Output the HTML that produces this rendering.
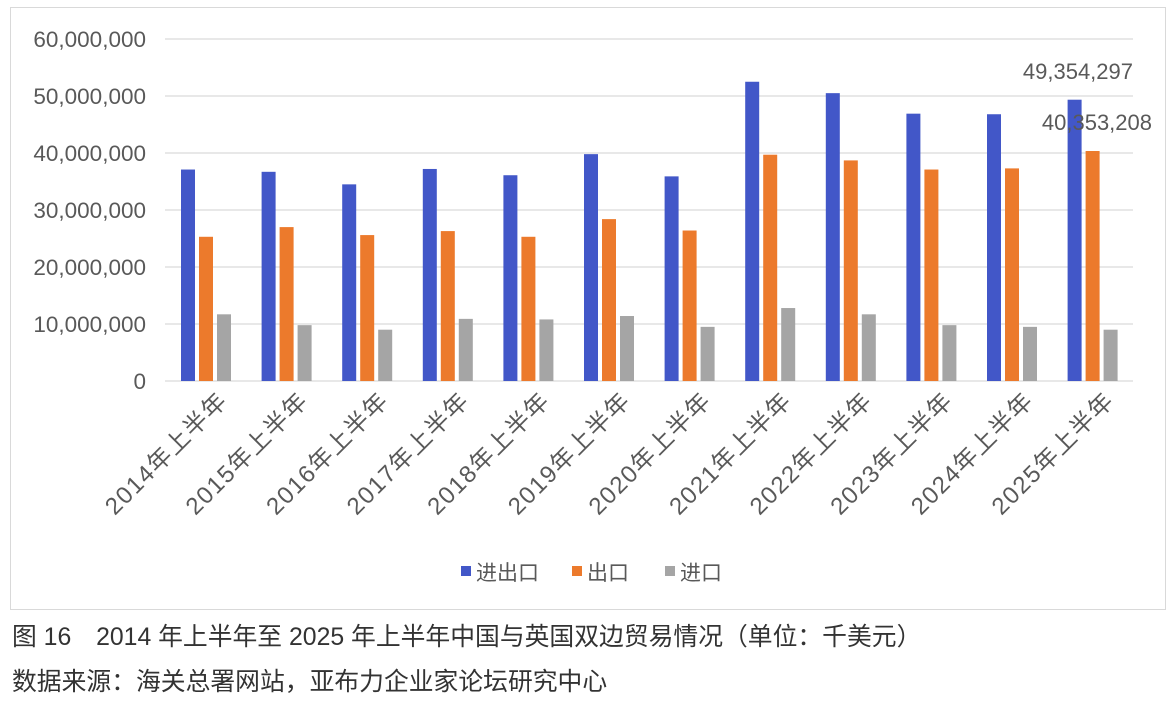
<!DOCTYPE html>
<html><head><meta charset="utf-8"><style>
body{margin:0;background:#fff;}
svg text{font-family:"Liberation Sans","Noto Sans CJK SC",sans-serif;}
</style></head><body>
<svg width="1176" height="707" xmlns="http://www.w3.org/2000/svg">
<rect x="10.5" y="7.5" width="1155" height="602" fill="#fff" stroke="#d9d9d9"/>
<g stroke="#d9d9d9" stroke-width="1.2">
<line x1="165" x2="1133" y1="39" y2="39"/><line x1="165" x2="1133" y1="96" y2="96"/>
<line x1="165" x2="1133" y1="153" y2="153"/><line x1="165" x2="1133" y1="210" y2="210"/>
<line x1="165" x2="1133" y1="267" y2="267"/><line x1="165" x2="1133" y1="324" y2="324"/>
<line x1="165" x2="1133" y1="381" y2="381"/>
</g>
<g fill="#595959" font-size="22.5" text-anchor="end">
<text x="146" y="47">60,000,000</text><text x="146" y="104">50,000,000</text>
<text x="146" y="161">40,000,000</text><text x="146" y="218">30,000,000</text>
<text x="146" y="275">20,000,000</text><text x="146" y="332">10,000,000</text>
<text x="146" y="389">0</text>
</g>
<g id="bars"></g>
<g id="labels" fill="#595959" font-size="24" letter-spacing="1.5" text-anchor="end"></g>
<text x="1133" y="79" fill="#595959" font-size="22" text-anchor="end">49,354,297</text>
<text x="1152" y="130" fill="#595959" font-size="22" text-anchor="end">40,353,208</text>
<g font-size="21" fill="#595959">
<rect x="461" y="566" width="10" height="10" fill="#4257c8"/><text x="476" y="580">进出口</text>
<rect x="572" y="566" width="10" height="10" fill="#ec7a2c"/><text x="587" y="580">出口</text>
<rect x="665" y="566" width="10" height="10" fill="#a5a5a5"/><text x="680" y="580">进口</text>
</g>
<g fill="#333" font-size="24.8">
<text x="12" y="645">图 16　2014 年上半年至 2025 年上半年中国与英国双边贸易情况（单位：千美元）</text>
<text x="12" y="690">数据来源：海关总署网站，亚布力企业家论坛研究中心</text>
</g>
<script>
var d=[[37.1,25.3,11.7],[36.7,27.0,9.8],[34.5,25.6,9.0],[37.2,26.3,10.9],[36.1,25.3,10.8],[39.8,28.4,11.4],[35.9,26.4,9.5],[52.5,39.7,12.8],[50.5,38.7,11.7],[46.9,37.1,9.8],[46.8,37.3,9.5],[49.35,40.35,9.0]];
var c=["#4257c8","#ec7a2c","#a5a5a5"],ns="http://www.w3.org/2000/svg";
var g=document.getElementById("bars"),L=document.getElementById("labels");
for(var i=0;i<12;i++){var x0=181+i*80.6;
for(var j=0;j<3;j++){var h=d[i][j]*5.7;var r=document.createElementNS(ns,"rect");
r.setAttribute("x",x0+j*18);r.setAttribute("y",381-h);r.setAttribute("width",14);r.setAttribute("height",h);r.setAttribute("fill",c[j]);g.appendChild(r);}
var t=document.createElementNS(ns,"text");var cx=x0+48,cy=402;
t.setAttribute("x",cx);t.setAttribute("y",cy);t.setAttribute("transform","rotate(-45 "+cx+" "+cy+")");
t.textContent=(2014+i)+"年上半年";L.appendChild(t);}
</script>
</svg>
</body></html>
